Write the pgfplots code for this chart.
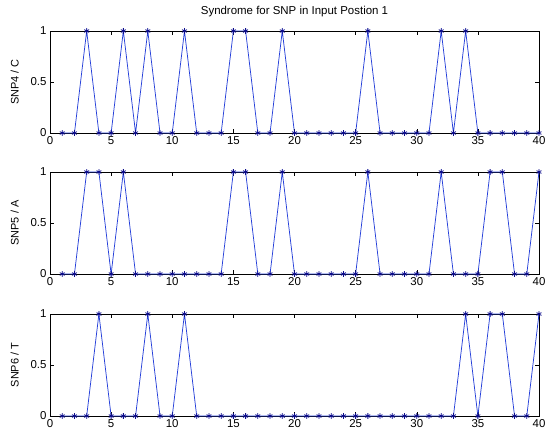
\documentclass[border=0pt]{standalone}
\usepackage{fontspec}
\setmainfont{Liberation Sans}
\usepackage{pgfplots}
\usepackage{pgfplotstable}
\pgfplotsset{compat=1.18}

% syndrome values per input position
\pgfplotstableread{
x  c  a  t
1  0  0  0
2  0  0  0
3  1  1  0
4  0  1  1
5  0  0  0
6  1  1  0
7  0  0  0
8  1  0  1
9  0  0  0
10 0  0  0
11 1  0  1
12 0  0  0
13 0  0  0
14 0  0  0
15 1  1  0
16 1  1  0
17 0  0  0
18 0  0  0
19 1  1  0
20 0  0  0
21 0  0  0
22 0  0  0
23 0  0  0
24 0  0  0
25 0  0  0
26 1  1  0
27 0  0  0
28 0  0  0
29 0  0  0
30 0  0  0
31 0  0  0
32 1  1  0
33 0  0  0
34 1  0  1
35 0  0  0
36 0  1  1
37 0  1  1
38 0  0  0
39 0  0  0
40 0  1  1
}\snpdata

\definecolor{mline}{rgb}{0.15,0.25,0.85}
\definecolor{mmark}{rgb}{0.05,0.05,0.55}

\pgfplotsset{
  snp/.style={
    scale only axis, width=489bp, height=102bp,
    xmin=0, xmax=40, ymin=0, ymax=1,
    xtick={0,5,...,40}, ytick={0,0.5,1},
    tick align=inside, major tick length=4bp,
    tick style={black, thin},
    axis line style={black, thin},
    ticklabel style={font=\fontsize{11.5}{13}\selectfont},
    /pgf/number format/assume math mode=true,
    y label style={font=\fontsize{11}{13}\selectfont, at={(axis description cs:-0.072,0.5)}, anchor=center},
    clip=false, anchor=north west,
  },
  snpline/.style={mline, line width=0.75bp, mark=asterisk, mark size=2.8bp,
    mark options={mmark, line width=0.8bp}},
}

\begin{document}
\begin{tikzpicture}
\useasboundingbox (0,0) rectangle (545bp,-431bp);
\begin{axis}[snp, at={(50bp,-31bp)}, ylabel={SNP4 / C},
  title={Syndrome for SNP in Input Postion 1},
  title style={font=\fontsize{11.5}{13}\selectfont, yshift=5bp}]
\addplot[snpline] table[x=x, y=c] {\snpdata};
\end{axis}
\begin{axis}[snp, at={(50bp,-172bp)}, ylabel={SNP5 / A}]
\addplot[snpline] table[x=x, y=a] {\snpdata};
\end{axis}
\begin{axis}[snp, at={(50bp,-314bp)}, ylabel={SNP6 / T}]
\addplot[snpline] table[x=x, y=t] {\snpdata};
\end{axis}
\end{tikzpicture}
\end{document}
